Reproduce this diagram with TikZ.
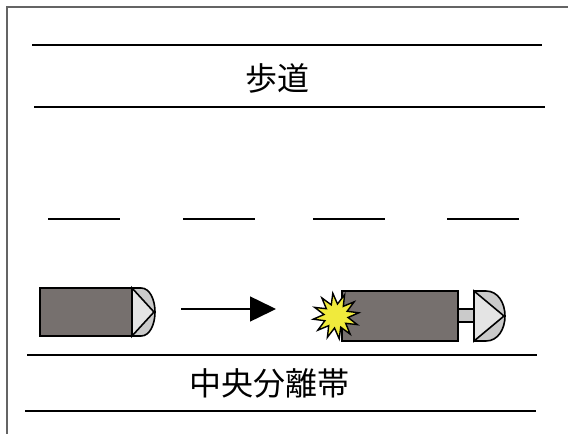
\documentclass[tikz,border=0pt]{standalone}
\usepackage{fontspec}
\newfontfamily\cjk{Noto Sans CJK JP}
\usetikzlibrary{arrows.meta,shapes.geometric}
\definecolor{bodygray}{RGB}{118,112,110}
\definecolor{headgray}{RGB}{202,202,202}
\definecolor{trigray}{RGB}{228,228,228}
\definecolor{framegray}{RGB}{100,100,100}
\definecolor{bang}{RGB}{240,234,60}
\tikzset{
  road/.style={line width=2pt,black},
  lanedash/.style={line width=2pt,black},
  carbody/.style={draw=black,line width=1.8pt,fill=bodygray},
  carhead/.style={draw=black,line width=1.6pt,fill=headgray},
  cartri/.style={draw=black,line width=1.6pt,fill=trigray},
  label/.style={font=\cjk\fontsize{32}{32}\selectfont,inner sep=0pt},
  move/.style={line width=1.5pt,-{Triangle[length=26pt,width=25pt]}},
}
\begin{document}
\begin{tikzpicture}[x=1pt,y=-1pt]
\useasboundingbox (0,0) rectangle (568,434);
% frame
\draw[framegray,line width=1.4pt] (7,434) -- (7,7) -- (568,7);
% sidewalk
\draw[road] (32,45) -- (542,45);
\draw[road] (34,107) -- (545,107);
\node[label] (sidewalk) at (277,78) {歩道};
% lane dashes
\draw[lanedash] (48,219) -- (120,219);
\draw[lanedash] (183,219) -- (255,219);
\draw[lanedash] (313,219) -- (385,219);
\draw[lanedash] (447,219) -- (519,219);
% median
\draw[road] (27,355) -- (537,355);
\draw[road] (25,411) -- (536,411);
\node[label] (median) at (269,383) {中央分離帯};
% car 1
\draw[carbody] (40,288) rectangle (132,336);
\draw[carhead] (132,288) -- (141,288) .. controls (150,288) and (155,300) .. (155,312)
  .. controls (155,324) and (150,336) .. (141,336) -- (132,336) -- cycle;
\draw[cartri] (132,288) -- (154,312) -- (132,336) -- cycle;
% motion arrow
\coordinate (mstart) at (181,309);
\coordinate (mend) at (276,309);
\draw[move] (mstart) -- (mend);
% car 2
\draw[carbody] (342,291) rectangle (458,341);
\draw[carhead,line width=1.2pt] (458,309) rectangle (474,322);
\draw[carhead] (474,291) -- (486,291) .. controls (498,291) and (505,303) .. (505,316)
  .. controls (505,329) and (498,341) .. (486,341) -- (474,341) -- cycle;
\draw[cartri] (474,291) -- (504,316) -- (474,341) -- cycle;
% impact
\node[star,star points=12,star point ratio=1.9,minimum size=46pt,inner sep=0pt,
      draw=black,line width=1.4pt,fill=bang,rotate=8] (impact) at (336,316) {};
\end{tikzpicture}
\end{document}
